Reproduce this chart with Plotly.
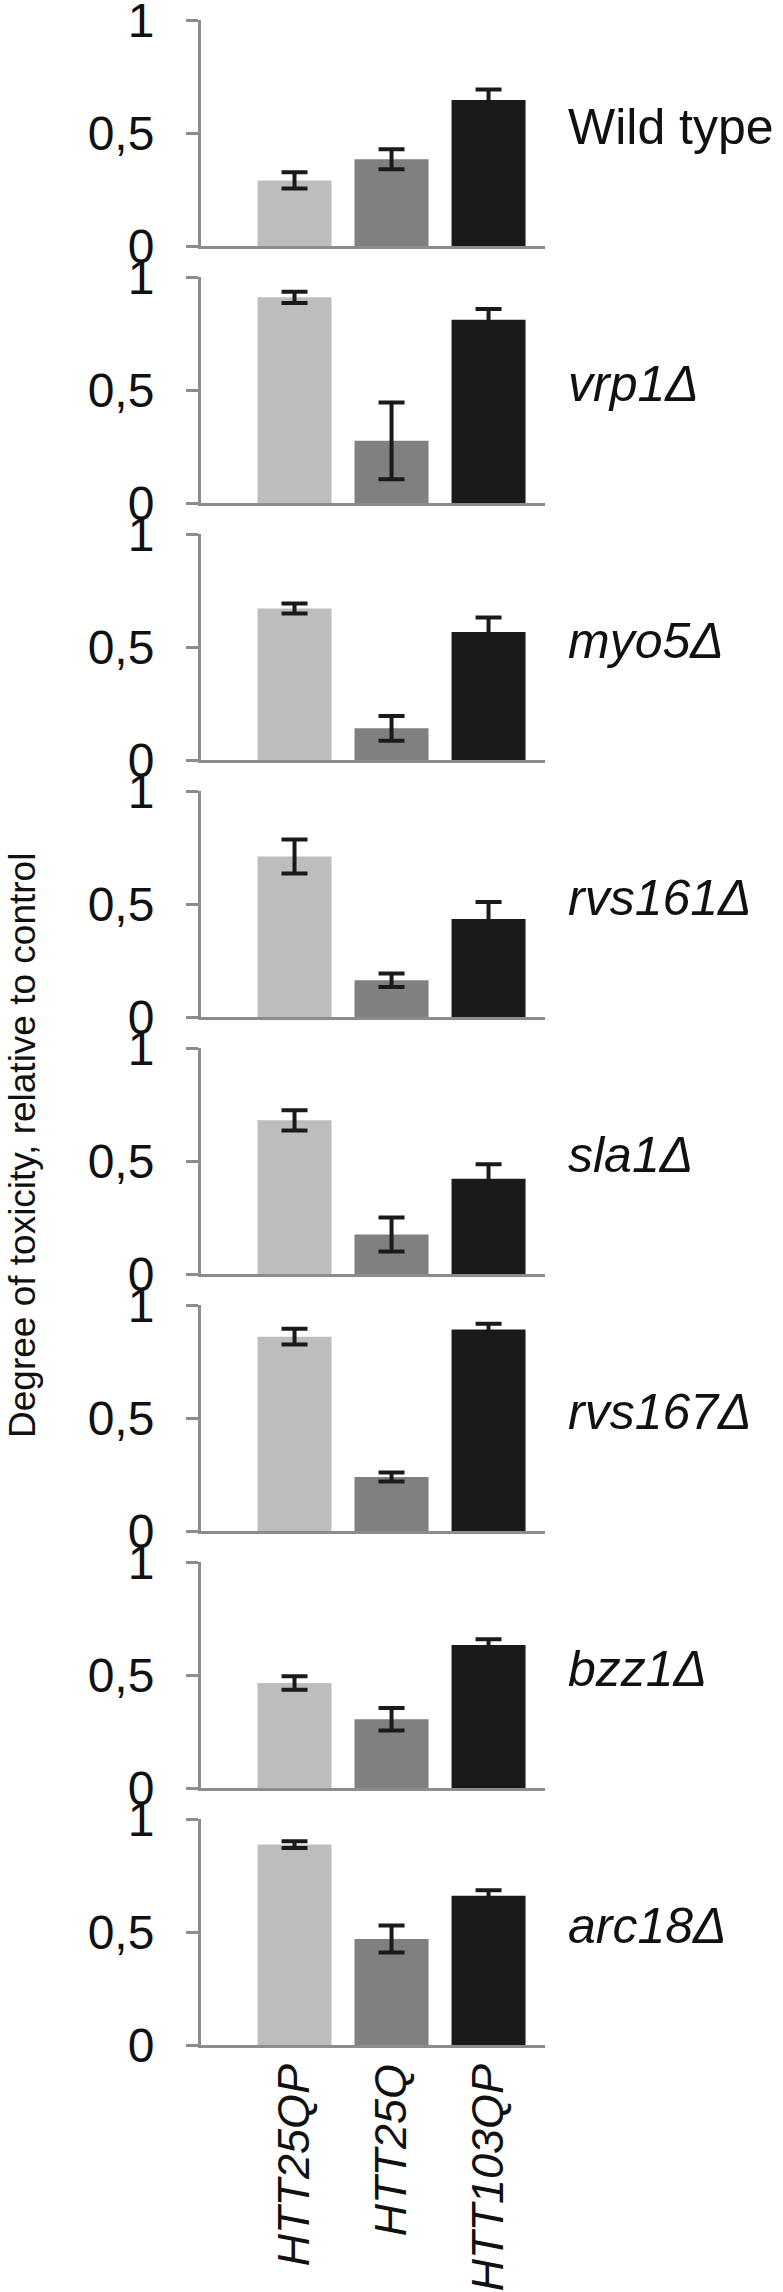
import plotly.graph_objects as go

# ---- data ----
strains = ["Wild type", "vrp1Δ", "myo5Δ", "rvs161Δ", "sla1Δ", "rvs167Δ", "bzz1Δ", "arc18Δ"]
strain_italic = [False, True, True, True, True, True, True, True]
constructs = ["HTT25QP", "HTT25Q", "HTT103QP"]

htt25qp = [0.29, 0.91, 0.67, 0.71, 0.68, 0.86, 0.465, 0.887]
htt25qp_err = [0.036, 0.025, 0.022, 0.075, 0.045, 0.035, 0.03, 0.015]
htt25q = [0.384, 0.275, 0.14, 0.163, 0.175, 0.239, 0.304, 0.469]
htt25q_err = [0.044, 0.17, 0.055, 0.03, 0.075, 0.02, 0.05, 0.06]
htt103qp = [0.646, 0.811, 0.566, 0.434, 0.421, 0.892, 0.633, 0.66]
htt103qp_err = [0.047, 0.047, 0.065, 0.075, 0.065, 0.025, 0.025, 0.025]

y_tick_vals = [0, 0.5, 1]
y_tick_text = ["0", "0,5", "1"]

bar_colors = ["#bdbdbd", "#808080", "#1a1a1a"]
axis_color = "#8c8c8c"
FONT = "Liberation Sans, Arial, sans-serif"

W, H = 783, 2292
x_left, x_right = 201, 545
panel_h = 226
panel_step = 257
first_zero = 246

fig = go.Figure()
layout_axes = {}
annotations = []
n = len(strains)
for k in range(n):
    sfx = "" if k == 0 else str(k + 1)
    xa = "x" + sfx
    ya = "y" + sfx
    vals = [htt25qp[k], htt25q[k], htt103qp[k]]
    errs = [htt25qp_err[k], htt25q_err[k], htt103qp_err[k]]
    fig.add_trace(go.Bar(
        x=constructs, y=vals, xaxis=xa, yaxis=ya,
        marker=dict(color=bar_colors, line=dict(width=0)),
        width=0.763,
        error_y=dict(type="data", array=errs, visible=True,
                     color="#1a1a1a", thickness=4, width=13),
        showlegend=False, hoverinfo="skip",
    ))
    zero_px = first_zero + panel_step * k
    top_px = zero_px - panel_h
    dom = [(H - zero_px) / H, (H - top_px) / H]
    last = (k == n - 1)
    layout_axes["xaxis" + sfx] = dict(
        domain=[x_left / W, x_right / W], anchor=ya,
        range=[-0.964, 2.582], type="category", automargin=False,
        showline=True, linecolor=axis_color, linewidth=3,
        ticks="", showgrid=False, zeroline=False,
        showticklabels=last, tickangle=-90,
        tickmode="array", tickvals=constructs,
        ticktext=["<i>" + c + "</i>" for c in constructs],
        tickfont=dict(family=FONT, size=45, color="#111111"),
        ticklabelstandoff=-2, ticklabeloverflow="allow",
    )
    layout_axes["yaxis" + sfx] = dict(
        domain=dom, anchor=xa, range=[0, 1], automargin=False,
        showline=True, linecolor=axis_color, linewidth=3,
        ticks="outside", ticklen=12, tickwidth=3, tickcolor=axis_color,
        tickmode="array", tickvals=y_tick_vals, ticktext=y_tick_text,
        tickfont=dict(family=FONT, size=48, color="#111111"),
        ticklabelstandoff=22, ticklabeloverflow="allow",
        showgrid=False, zeroline=False,
    )
    label = strains[k]
    if strain_italic[k]:
        label = "<i>" + label + "</i>"
    annotations.append(dict(
        text=label, xref="paper", yref="paper",
        x=566 / W, y=(H - (zero_px - panel_h / 2) + 6) / H,
        xanchor="left", yanchor="middle", showarrow=False,
        font=dict(family=FONT, size=50, color="#111111"),
    ))

annotations.append(dict(
    text="Degree of toxicity, relative to control",
    xref="paper", yref="paper", x=22 / W, y=0.5,
    xanchor="center", yanchor="middle", textangle=-90, showarrow=False,
    font=dict(family=FONT, size=37, color="#111111"),
))

fig.update_layout(
    template="none",
    width=W, height=H,
    margin=dict(l=0, r=0, t=0, b=0, autoexpand=False),
    paper_bgcolor="white", plot_bgcolor="white",
    annotations=annotations,
    bargap=0.2,
    hovermode=False,
    **layout_axes,
)

fig.write_html("out.html", config={"displayModeBar": False, "staticPlot": True},
               post_script="document.body.style.margin='0';document.body.style.overflow='hidden';")
